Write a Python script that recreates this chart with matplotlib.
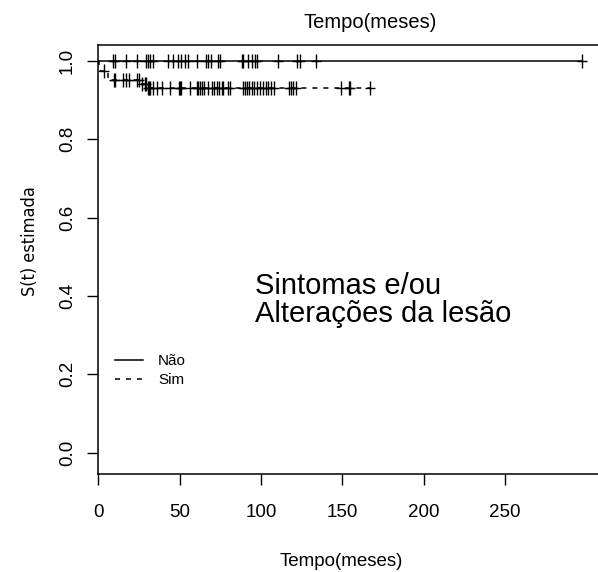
import numpy as np
import matplotlib
matplotlib.use("Agg")
import matplotlib.pyplot as plt
from matplotlib import font_manager
from matplotlib.path import Path

# Kaplan-Meier: grupo "Não" (sem eventos, só censuras)
nao_censura = [9.2, 10.0, 16.8, 23.6, 29.6, 30.8, 31.8, 33.8, 42.8, 46.1, 49.0, 51.0,
               53.5, 55.3, 60.5, 66.2, 67.5, 69.1, 73.8, 74.6, 88.3, 89.0, 92.2,
               94.3, 96.3, 97.7, 110.3, 121.9, 124.0, 133.8, 297.0]
nao_fim = 297.0

# grupo "Sim": tempos de evento e S(t) estimada
sim_tempos = [0.0, 0.5, 6.0, 26.0, 30.0]
sim_surv = [1.0, 0.975, 0.951, 0.941, 0.930]
sim_censura = [3.5, 9.5, 10.5, 15.4, 17.0, 19.1, 23.6, 25.2, 27.0, 28.7, 29.3, 30.5,
               31.2, 31.8, 33.8, 35.9, 39.0, 44.1, 49.5, 50.3, 50.8, 56.4, 60.5,
               61.5, 62.5, 63.5, 65.0, 67.6, 69.7, 71.3, 72.8, 74.4, 75.8, 76.8,
               80.0, 81.0, 89.1, 90.2, 91.2, 92.8, 94.3, 95.7, 97.4, 99.4, 101.4,
               103.1, 104.5, 106.1, 108.2, 117.4, 118.4, 119.9, 121.5, 149.2,
               154.2, 155.0, 166.8]
sim_fim = 166.8

x_ticks = [0, 50, 100, 150, 200, 250]
y_ticks = [0.0, 0.2, 0.4, 0.6, 0.8, 1.0]

fontes = font_manager.fontManager.ttflist
nomes = {f.name for f in fontes}
fonte = "Liberation Sans" if "Liberation Sans" in nomes else "DejaVu Sans"
tem_condensada = any(f.name == "DejaVu Sans" and f.stretch == "condensed" for f in fontes)
plt.rcParams["font.family"] = [fonte, "DejaVu Sans"]
plt.rcParams["lines.scale_dashes"] = False

W, H = 598, 572
fig = plt.figure(figsize=(W / 100, H / 100), dpi=100)
fig.patch.set_facecolor("w")

# área do gráfico em pixels
x0, x1 = 98.3, 601.5
y_top, y_bot = 44.7, 473.7
ax = fig.add_axes([x0 / W, 1 - y_bot / H, (x1 - x0) / W, (y_bot - y_top) / H])
ax.set_xlim(0, (x1 - x0) / 1.627)
ax.set_ylim(-0.0536, 1.041)

cruz = Path([(-0.72, 0), (0.72, 0), (0, -1), (0, 1)],
            [Path.MOVETO, Path.LINETO, Path.MOVETO, Path.LINETO])


def km_nivel(tempos, surv, t):
    idx = np.searchsorted(tempos, t, side="right") - 1
    return np.asarray(surv)[idx]


# Não: linha contínua em 1.0
ax.plot([0, nao_fim], [1.0, 1.0], color="k", lw=1.1, solid_capstyle="butt")
ax.plot(nao_censura, np.ones(len(nao_censura)), ls="none", marker=cruz,
        ms=10.5, mew=1.0, color="k")

# Sim: degraus tracejados
st = list(sim_tempos) + [sim_fim]
ss = list(sim_surv) + [sim_surv[-1]]
ax.step(st, ss, where="post", color="k", lw=1.1, dashes=(3.6, 4.3))
ax.plot(sim_censura, km_nivel(sim_tempos, sim_surv, sim_censura), ls="none",
        marker=cruz, ms=10.5, mew=1.0, color="k")

ax.spines["right"].set_visible(False)
for s in ["left", "bottom", "top"]:
    ax.spines[s].set_linewidth(1.1)

ax.set_xticks(x_ticks)
ax.set_xticklabels([str(v) for v in x_ticks], fontsize=13.5)
ax.set_yticks(y_ticks)
ax.set_yticklabels([f"{v:.1f}" for v in y_ticks], fontsize=13.5, rotation=90,
                   va="center")
ax.tick_params(axis="both", direction="out", length=8, width=1.0, color="k")
ax.tick_params(axis="x", pad=14)
ax.tick_params(axis="y", pad=8)

fig.text(341 / W, 1 - 561 / H, "Tempo(meses)", ha="center", va="center", fontsize=13.5)
fig.text(370 / W, 1 - 22 / H, "Tempo(meses)", ha="center", va="center", fontsize=14.5)
if tem_condensada:
    fig.text(30 / W, 1 - 241 / H, "S(t) estimada", ha="center", va="center",
             rotation=90, fontsize=13, family="DejaVu Sans", fontstretch="condensed")
else:
    fig.text(30 / W, 1 - 241 / H, "S(t) estimada", ha="center", va="center",
             rotation=90, fontsize=10.5)

fig.text(255 / W, 1 - 286 / H, "Sintomas e/ou", ha="left", va="center", fontsize=21)
fig.text(255 / W, 1 - 314 / H, "Alterações da lesão", ha="left", va="center", fontsize=21)

# legenda manual
h1, = ax.plot([], [], color="k", lw=1.1)
h2, = ax.plot([], [], color="k", lw=1.1, dashes=(3.6, 4.3))
ax.legend([h1, h2], ["Não", "Sim"], loc="upper left", frameon=False,
          bbox_to_anchor=(115 / W, 1 - 354 / H), bbox_transform=fig.transFigure,
          borderpad=0, borderaxespad=0, fontsize=11, handlelength=1.83,
          handletextpad=0.98, labelspacing=0.33)

fig.savefig("out.png", dpi=100)
